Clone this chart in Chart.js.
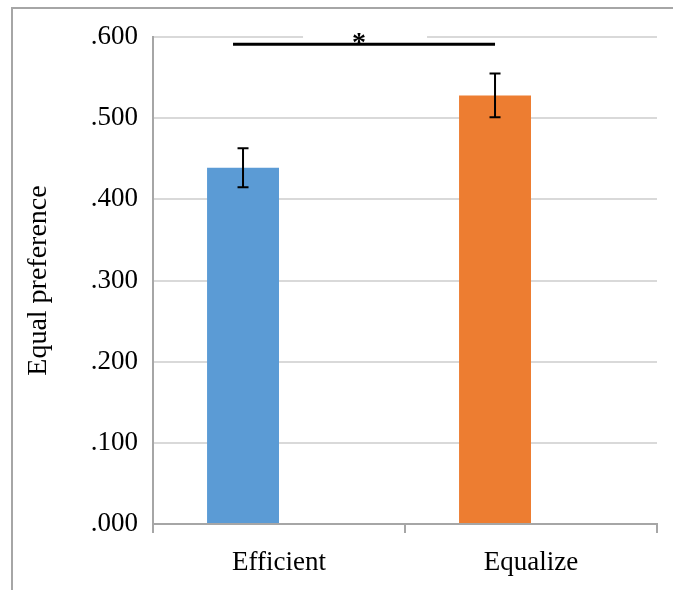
<!DOCTYPE html>
<html>
<head>
<meta charset="utf-8">
<script src="https://cdn.jsdelivr.net/npm/chart.js@4"></script>
<style>
  html, body { margin: 0; padding: 0; background: #fff; }
  #wrap { position: relative; width: 673px; height: 590px; overflow: hidden; }
  #rahmen {
    position: absolute; left: 11px; top: 7px; width: 700px; height: 620px;
    border-left: 2px solid #a6a6a6; border-top: 2px solid #a6a6a6;
  }
  canvas { position: absolute; left: 0; top: 0; }
</style>
</head>
<body>
<div id="wrap">
  <div id="rahmen"></div>
  <canvas id="chart" width="673" height="590"></canvas>
</div>
<script>
// Daten
const kategorien = ['Efficient', 'Equalize'];
const werte = [0.439, 0.528];
const fehler = [0.024, 0.027];
const farben = ['#5b9bd5', '#ed7d31'];
const yTicks = [0, 0.1, 0.2, 0.3, 0.4, 0.5, 0.6];
const signifikanzHoehe = 0.591;
const signifikanzText = '*';

const schrift = 'Liberation Serif, Times New Roman, serif';

// Fehlerbalken + Signifikanzlinie
const fehlerPlugin = {
  id: 'fehlerbalken',
  afterDatasetsDraw(chart) {
    const ctx = chart.ctx;
    const y = chart.scales.y;
    const meta = chart.getDatasetMeta(0);
    ctx.save();
    ctx.strokeStyle = '#000';
    ctx.lineWidth = 2;
    meta.data.forEach((bar, i) => {
      const oben = y.getPixelForValue(werte[i] + fehler[i]);
      const unten = y.getPixelForValue(werte[i] - fehler[i]);
      ctx.beginPath();
      ctx.moveTo(bar.x, oben);
      ctx.lineTo(bar.x, unten);
      ctx.moveTo(bar.x - 5.5, oben);
      ctx.lineTo(bar.x + 5.5, oben);
      ctx.moveTo(bar.x - 5.5, unten);
      ctx.lineTo(bar.x + 5.5, unten);
      ctx.stroke();
    });

    // weisser Kasten hinter dem Stern (verdeckt Gitterlinie)
    const links = meta.data[0].x;
    const rechts = meta.data[1].x;
    const mitte = (links + rechts) / 2;
    const sy = y.getPixelForValue(signifikanzHoehe);
    ctx.fillStyle = '#fff';
    ctx.fillRect(mitte - 66, sy - 16, 124, 12);

    ctx.lineWidth = 3;
    ctx.beginPath();
    ctx.moveTo(links - 10, sy);
    ctx.lineTo(rechts, sy);
    ctx.stroke();

    ctx.fillStyle = '#000';
    ctx.font = 'bold 28px ' + schrift;
    ctx.textAlign = 'center';
    ctx.textBaseline = 'alphabetic';
    ctx.fillText(signifikanzText, mitte - 10, sy + 7);
    ctx.restore();
  }
};

new Chart(document.getElementById('chart'), {
  type: 'bar',
  data: {
    labels: kategorien,
    datasets: [
      { data: werte, backgroundColor: farben, categoryPercentage: 0.571, barPercentage: 1 },
      { data: [null, null], backgroundColor: '#a5a5a5', categoryPercentage: 0.571, barPercentage: 1 }
    ]
  },
  options: {
    responsive: false,
    animation: false,
    layout: { padding: { top: 37, right: 16, left: 0, bottom: 0 } },
    plugins: { legend: { display: false }, tooltip: { enabled: false } },
    scales: {
      x: {
        grid: { offset: true, drawOnChartArea: false, drawTicks: true, tickLength: 9, color: '#a6a6a6', lineWidth: 2 },
        border: { color: '#a6a6a6', width: 2 },
        ticks: { color: '#000', font: { family: schrift, size: 27 }, padding: 14 },
        afterFit(scale) { scale.height = 66; }
      },
      y: {
        min: 0,
        max: 0.6,
        afterBuildTicks(scale) { scale.ticks = yTicks.map(v => ({ value: v })); },
        grid: { color: '#d9d9d9', lineWidth: 2, drawTicks: false },
        border: { color: '#a6a6a6', width: 2 },
        ticks: {
          color: '#000',
          padding: 15,
          font: { family: schrift, size: 27 },
          callback: v => v.toFixed(3).replace(/^0/, '')
        },
        title: {
          display: true,
          text: 'Equal preference',
          color: '#000',
          font: { family: schrift, size: 28 },
          padding: { top: 22, bottom: 0 }
        },
        afterFit(scale) { scale.width = 153; }
      }
    }
  },
  plugins: [fehlerPlugin]
});
</script>
</body>
</html>
